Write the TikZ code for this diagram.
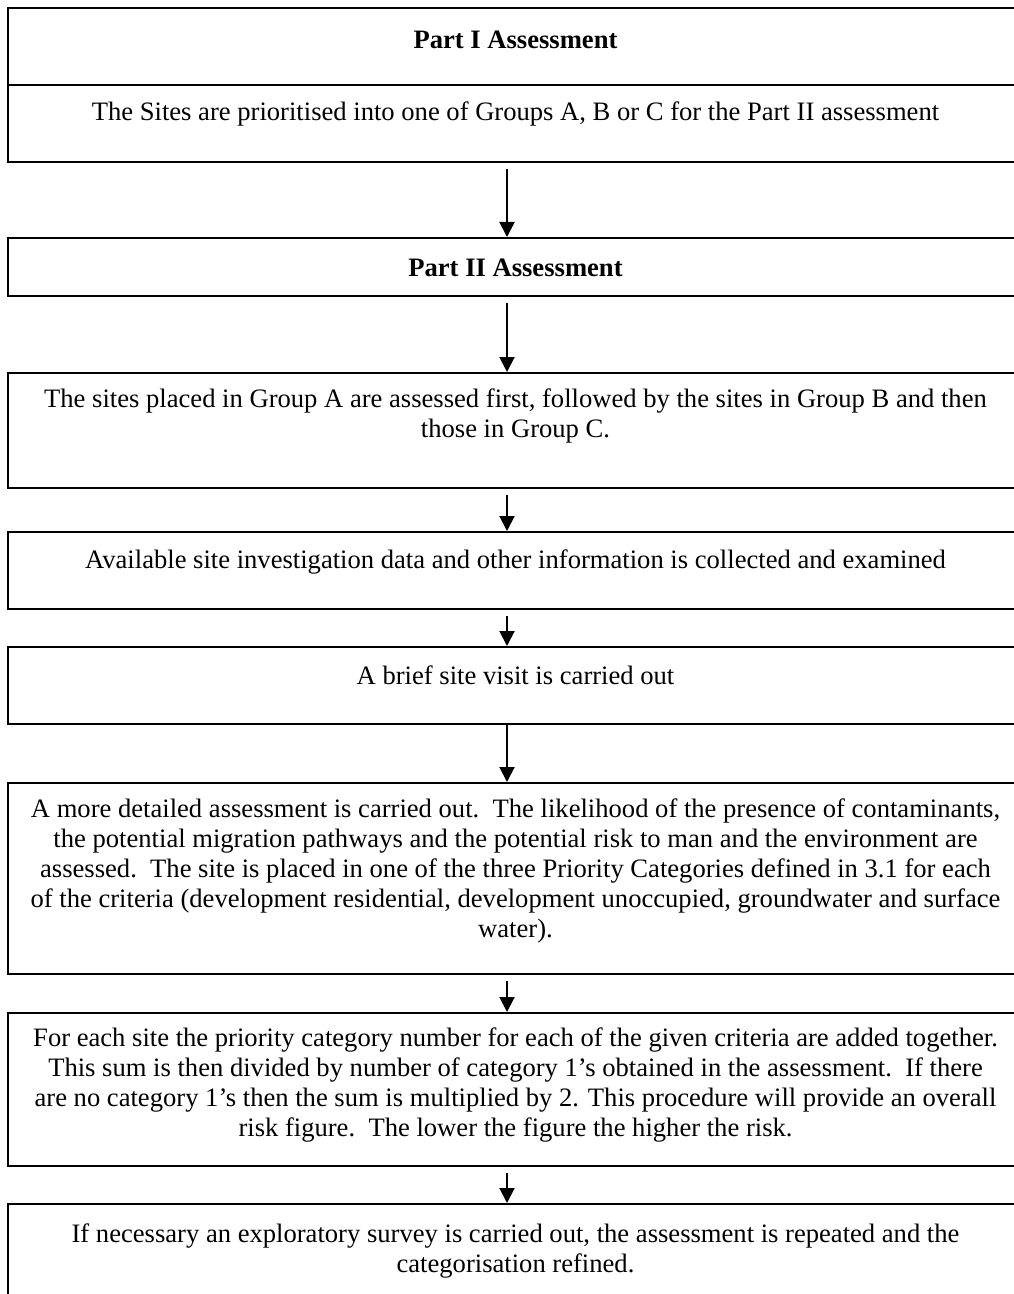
\documentclass[tikz,border=0pt]{standalone}
\usepackage{fontspec}
\setmainfont{Liberation Serif}
\usetikzlibrary{arrows.meta}
\begin{document}
\begin{tikzpicture}[x=0.5pt,y=-0.5pt,
  box/.style={draw, line width=1pt, inner sep=0pt, minimum width=507.5pt},
  txt/.style={inner sep=0pt, align=center,
    font=\fontsize{13.3pt}{15pt}\selectfont,
    execute at begin node=\strut, execute at end node=\strut},
  head/.style={txt, font=\fontsize{13.3pt}{15pt}\selectfont\bfseries},
  flow/.style={line width=1pt, -{Triangle[width=7.5pt,length=7.5pt]}}]
\useasboundingbox (0,0) rectangle (1013,1294);
\fill[white] (0,0) rectangle (1013,1294);

% boxes (right and lower edges run past the page)
\node[box, minimum height=38.5pt] (b1a) at (515.5,46.5)  {};
\node[box, minimum height=38.5pt] (b1b) at (515.5,123.5) {};
\node[box, minimum height=29pt]   (b2)  at (515.5,267)   {};
\node[box, minimum height=57.5pt] (b3)  at (515.5,430.5) {};
\node[box, minimum height=38.5pt] (b4)  at (515.5,570.5) {};
\node[box, minimum height=38.5pt] (b5)  at (515.5,685.5) {};
\node[box, minimum height=95.5pt] (b6)  at (515.5,878.5) {};
\node[box, minimum height=76.5pt] (b7)  at (515.5,1089.5){};
\node[box, minimum height=53pt]   (b8)  at (515.5,1257)  {};

% texts
\node[head] (t1a) at (515.5,43) {Part I Assessment};
\node[txt] (t1b) at (515.5,115) {The Sites are prioritised into one of Groups A, B or C for the Part II assessment};
\node[head] (t2) at (515.5,271) {Part II Assessment};
\node[txt] (t3) at (515.5,418) {The sites placed in Group A are assessed first, followed by the sites in Group B and then\\
  those in Group C.};
\node[txt] (t4) at (515.5,562) {Available site investigation data and other information is collected and examined};
\node[txt] (t5) at (515.5,678) {A brief site visit is carried out};
\node[txt] (t6) at (515.5,873) {A more detailed assessment is carried out.\ \ The likelihood of the presence of contaminants,\\
  the potential migration pathways and the potential risk to man and the environment are\\
  assessed.\ \ The site is placed in one of the three Priority Categories defined in 3.1 for each\\
  of the criteria (development residential, development unoccupied, groundwater and surface\\
  water).};
\node[txt] (t7) at (515.5,1087) {For each site the priority category number for each of the given criteria are added together.\\
  This sum is then divided by number of category 1's obtained in the assessment.\ \ If there\\
  are no category 1's then the sum is multiplied by 2. This procedure will provide an overall\\
  risk figure.\ \ The lower the figure the higher the risk.};
\node[txt] (t8) at (515.5,1253) {If necessary an exploratory survey is carried out, the assessment is repeated and the\\
  categorisation refined.};

% connectors
\draw[flow] ([xshift=-4.25pt,yshift=-3pt]b1b.south) -- ([xshift=-4.25pt]b2.north);
\draw[flow] ([xshift=-4.25pt,yshift=-3pt]b2.south)  -- ([xshift=-4.25pt]b3.north);
\draw[flow] ([xshift=-4.25pt,yshift=-3pt]b3.south)  -- ([xshift=-4.25pt]b4.north);
\draw[flow] ([xshift=-4.25pt,yshift=-3pt]b4.south)  -- ([xshift=-4.25pt]b5.north);
\draw[flow] ([xshift=-4.25pt]b5.south)              -- ([xshift=-4.25pt]b6.north);
\draw[flow] ([xshift=-4.25pt,yshift=-3pt]b6.south)  -- ([xshift=-4.25pt]b7.north);
\draw[flow] ([xshift=-4.25pt,yshift=-3pt]b7.south)  -- ([xshift=-4.25pt]b8.north);
\end{tikzpicture}
\end{document}
